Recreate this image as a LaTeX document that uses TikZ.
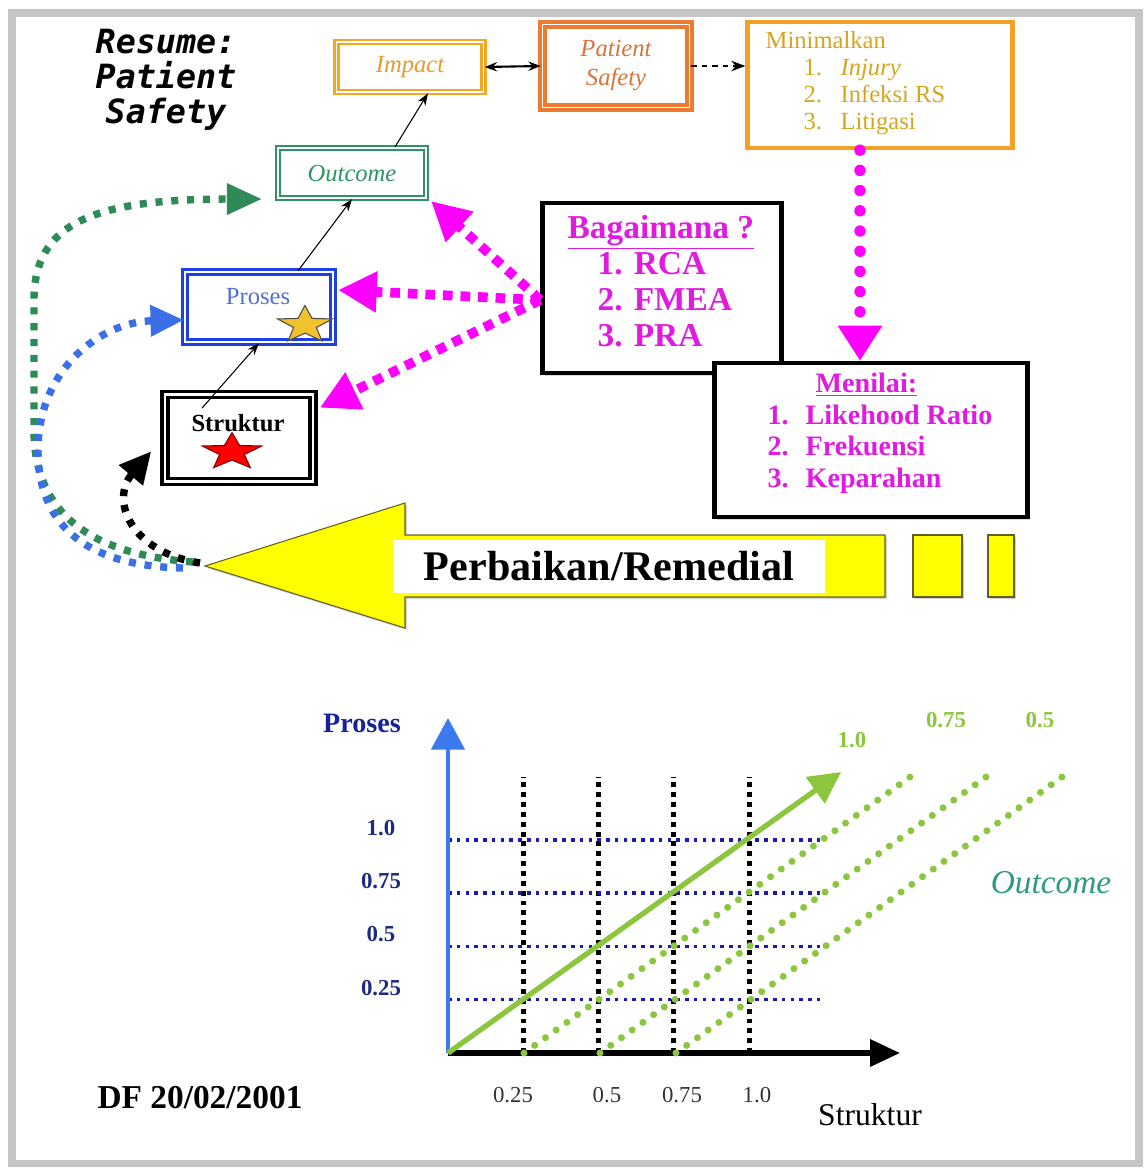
\documentclass[tikz,border=0pt]{standalone}
\usepackage{fontspec}
\setmainfont{Liberation Serif}
\newfontfamily\resfont{DejaVu Sans Mono}
\usetikzlibrary{arrows.meta,positioning,shapes.geometric,shadows,calc}
\newcommand\fsz[2]{\fontsize{#1}{#2}\selectfont}
\definecolor{impor}{HTML}{F5A623}
\definecolor{imptext}{HTML}{E89A2E}
\definecolor{psor}{HTML}{EE7A30}
\definecolor{pstext}{HTML}{D8743C}
\definecolor{minor}{HTML}{F2A126}
\definecolor{mintext}{HTML}{D6A520}
\definecolor{outgr}{HTML}{2E9466}
\definecolor{problue}{HTML}{1F3FE6}
\definecolor{protext}{HTML}{4F72D9}
\definecolor{mag}{HTML}{FF00FF}
\definecolor{magtext}{HTML}{E01BE0}
\definecolor{curvegr}{HTML}{2E8B57}
\definecolor{curvebl}{HTML}{3B6FE8}
\definecolor{yel}{HTML}{FFFF00}
\definecolor{lime}{HTML}{8CC63E}
\definecolor{gridbl}{HTML}{1A1AB0}
\definecolor{axbl}{HTML}{3C7BEF}
\definecolor{navy}{HTML}{1C2A80}
\definecolor{tealout}{HTML}{2E9A80}

\begin{document}
\begin{tikzpicture}[x=0.02cm,y=-0.02cm,
  box/.style={rectangle,inner sep=0pt,fill=white},
  dbox/.style={box,double=white,line width=1.4pt,double distance=1pt},
  blackbox/.style={box,draw=black,line width=2.5pt,drop shadow={shadow xshift=1.5pt,shadow yshift=-1.5pt,fill=gray!60}},
  thinarr/.style={line width=0.6pt,-{Stealth[length=7pt,width=5pt]}},
  mdots/.style={mag,line width=5.5pt,dash pattern=on 5.5pt off 4.5pt,-{Triangle[length=22pt,width=22pt]}},
  pdots/.style={mag,line width=6.5pt,line cap=round,dash pattern=on 0pt off 11.5pt},
  cdots/.style={line width=4.2pt,dash pattern=on 4pt off 5pt},
  vgrid/.style={line width=2.8pt,dash pattern=on 2.8pt off 2.8pt},
  hgrid/.style={gridbl,line width=2pt,dash pattern=on 2pt off 3pt},
  ldots/.style={lime,line width=4pt,line cap=round,dash pattern=on 0pt off 7.5pt},
  fivestar/.style={star,star points=5,star point ratio=2.4,inner sep=0pt,minimum size=1.15cm,transform shape}]
  \useasboundingbox (0,0) rectangle (1144,1170);
  \draw[line width=4pt,gray!45] (12,13) rectangle (1139,1163);

  \node[align=center,font=\resfont\bfseries\itshape\fsz{19}{20}] (title) at (166,80) {Resume:\\Patient\\Safety};

  \node[dbox,draw=impor,minimum width=2.94cm,minimum height=1cm,font=\itshape\fsz{14}{16},text=imptext] (impact) at (410,67) {Impact};
  \node[dbox,draw=psor,line width=2pt,minimum width=2.94cm,minimum height=1.66cm,align=center,font=\itshape\fsz{14}{16.5},text=pstext] (patsafe) at (616,66) {Patient\\Safety};
  \node[box,draw=minor,line width=2.5pt,minimum width=5.3cm,minimum height=2.52cm] (minim) at (880,85) {};
  \node[anchor=north west,align=left,inner sep=0pt,font=\fsz{14}{15.5},text=mintext] (mintxt) at ([xshift=0.4cm,yshift=-0.22cm]minim.north west) {Minimalkan\\
    \hspace*{0.76cm}\makebox[0.74cm][l]{1.}\textit{Injury}\\
    \hspace*{0.76cm}\makebox[0.74cm][l]{2.}Infeksi RS\\
    \hspace*{0.76cm}\makebox[0.74cm][l]{3.}Litigasi};

  \node[dbox,draw=outgr,line width=1.2pt,double distance=1.2pt,minimum width=2.96cm,minimum height=1cm,font=\itshape\fsz{14}{16},text=outgr] (outcome) at (352,173) {Outcome};
  \node[dbox,draw=problue,line width=1.3pt,double distance=1.5pt,minimum width=2.96cm,minimum height=1.4cm] (proses) at (259,307) {};
  \node[font=\fsz{14}{16},text=protext] (prosestxt) at (258,297) {Proses};
  \begin{scope}[shift={(305,325)},yscale=0.68]
    \node[fivestar,fill={rgb,255:red,242;green,193;blue,46},draw=black!70,line width=0.6pt] (yelstar) at (0,0) {};
  \end{scope}
  \node[dbox,draw=black,line width=2pt,double distance=1.5pt,minimum width=2.96cm,minimum height=1.74cm] (struktur) at (239,438) {};
  \node[font=\bfseries\fsz{14}{16}] (struktxt) at (238,423) {Struktur};
  \begin{scope}[shift={(232,452)},yscale=0.62]
    \node[fivestar,fill=red,draw=red!50!black,line width=0.6pt,minimum size=1.25cm] (redstar) at (0,0) {};
  \end{scope}

  \node[blackbox,minimum width=4.78cm,minimum height=3.4cm] (bagai) at (662,288) {};
  \node[anchor=north west,align=left,inner sep=0pt,font=\bfseries\fsz{19}{20.5},text=magtext] (bagaitxt) at ([xshift=0.54cm,yshift=-0.28cm]bagai.north west) {\underline{Bagaimana ?}\\
    \hspace*{0.6cm}1. RCA\\
    \hspace*{0.6cm}2. FMEA\\
    \hspace*{0.6cm}3. PRA};
  \node[blackbox,minimum width=6.26cm,minimum height=3.08cm] (menilai) at (871,440) {};
  \node[anchor=north west,align=left,inner sep=0pt,font=\bfseries\fsz{16}{18},text=magtext] (menilaitxt) at ([xshift=1.1cm,yshift=-0.24cm]menilai.north west) {\hspace*{0.96cm}\underline{Menilai:}\\
    \makebox[0.76cm][l]{1.}Likehood Ratio\\
    \makebox[0.76cm][l]{2.}Frekuensi\\
    \makebox[0.76cm][l]{3.}Keparahan};

  \draw[line width=1.2pt,{Stealth[length=7pt]}-{Stealth[length=7pt]}] (impact.east) -- (patsafe.west);
  \draw[line width=1pt,dashed,-{Stealth[length=8pt]}] (patsafe.east) -- (patsafe.east -| minim.west);
  \draw[thinarr] ([xshift=0.86cm]outcome.north) -- ([xshift=0.36cm]impact.south);
  \draw[thinarr] ([xshift=0.78cm]proses.north) -- (outcome.south);
  \draw[thinarr] ([xshift=-0.72cm]struktxt.north) -- (proses.south);
  \draw[pdots,-{Triangle[length=20pt,width=24pt]}] ([xshift=-0.4cm]minim.south) -- ([xshift=-0.4cm]minim.south |- menilai.north);

  \coordinate (bsrc) at ([yshift=-0.24cm]bagai.west);
  \draw[mdots] (bsrc) -- ([shift={(4,2)}]outcome.south east);
  \draw[mdots] (bsrc) -- ([shift={(4,-17)}]proses.east);
  \draw[mdots] (bsrc) -- ([shift={(5,15)}]struktur.north east);

  \coordinate (remtip) at (205,566);
  \draw[fill=yel,draw=olive!60!black,line width=0.6pt,drop shadow={shadow xshift=1.2pt,shadow yshift=-1.2pt,fill=gray!70}] (remtip) -- (405,503) -- (405,535) -- (885,535) -- (885,597) -- (405,597) -- (405,628) -- cycle;
  \draw[fill=yel,draw=olive!60!black,line width=0.6pt,drop shadow={shadow xshift=1.2pt,shadow yshift=-1.2pt,fill=gray!70}] (913,535) rectangle (962,597);
  \draw[fill=yel,draw=olive!60!black,line width=0.6pt,drop shadow={shadow xshift=1.2pt,shadow yshift=-1.2pt,fill=gray!70}] (988,535) rectangle (1014,597);
  \node[fill=white,inner sep=0pt,minimum width=8.64cm,minimum height=1.06cm,font=\bfseries\fsz{24}{26}] (remtext) at (609,566) {Perbaikan/Remedial};

  \draw[cdots,curvegr,-{Triangle[length=20pt,width=17pt]}] ([shift={(-12,-4)}]remtip) .. controls (100,555) and (34,520) .. (34,430) -- (34,300) .. controls (34,225) and (90,199) .. ([xshift=-0.3cm]outcome.south west);
  \draw[cdots,curvebl,-{Triangle[length=19pt,width=17pt]}] ([shift={(-22,2)}]remtip) .. controls (80,566) and (38,520) .. (38,450) .. controls (38,370) and (100,322) .. ([yshift=-0.26cm]proses.west);
  \draw[cdots,black,-{Triangle[length=18pt,width=17pt]}] ([shift={(-5,-3)}]remtip) .. controls (130,552) and (110,500) .. ([shift={(-12,-32)}]struktur.south west);

  \begin{scope}[shift={(448,1053)}]
    \coordinate (orig) at (0,0);
    \foreach \i in {1,...,4} {
      \draw[vgrid] (\i*75.3,0) -- (\i*75.3,-276);
      \draw[hgrid] (0,-\i*53.3) -- (372,-\i*53.3);
    }
    \draw[line width=2pt,axbl,-{Triangle[length=18pt,width=19pt]}] (orig) -- (0,-335);
    \draw[line width=3pt,-{Triangle[length=17pt,width=15pt]}] (orig) -- (452,0);
    \foreach \i in {1,2,3}
      \draw[ldots] (\i*76,0) -- (\i*76+386,-276);
    \draw[line width=3pt,lime,-{Triangle[length=18pt,width=18pt]}] (orig) -- (393,-281);
    \foreach \i/\t in {4/1.0,3/0.75,2/0.5,1/0.25}
      \node[font=\bfseries\fsz{13}{15},text=navy] (ylab\i) at (-67,-\i*53.3-12) {\t};
    \foreach \x/\t [count=\k] in {65/0.25,159/0.5,234/0.75,309/1.0}
      \node[font=\fsz{13}{15},text=black!80] (xlab\k) at (\x,42) {\t};
    \node[font=\bfseries\fsz{13}{15},text=lime] (glab1) at (404,-313) {1.0};
    \node[font=\bfseries\fsz{13}{15},text=lime] (glab2) at (498,-333) {0.75};
    \node[font=\bfseries\fsz{13}{15},text=lime] (glab3) at (592,-333) {0.5};
    \node[font=\itshape\fsz{19}{21},text=tealout] (outlab) at (603,-170) {Outcome};
    \node[font=\bfseries\fsz{16}{18},text=navy!80!blue] (proslab) at (-86,-330) {Proses};
    \node[font=\fsz{18}{20}] (struklab) at (422,62) {Struktur};
  \end{scope}
  \node[font=\bfseries\fsz{19}{21}] (date) at (200,1098) {DF 20/02/2001};
\end{tikzpicture}
\end{document}
